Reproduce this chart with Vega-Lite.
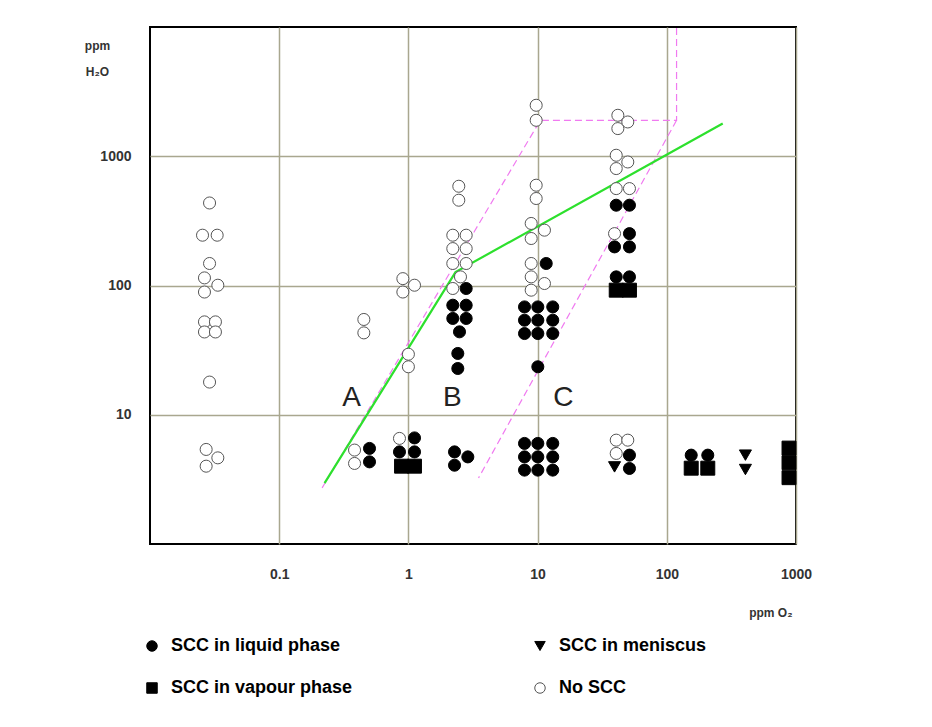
{
  "$schema": "https://vega.github.io/schema/vega-lite/v6.json",
  "width": 646,
  "height": 517,
  "autosize": {"type": "none"},
  "padding": {"left": 150, "top": 27, "right": 136, "bottom": 183},
  "background": "white",
  "config": {
    "view": {"stroke": "#000", "strokeWidth": 2},
    "axis": {
      "gridColor": "#a9a78f", "gridWidth": 1.5, "gridOpacity": 1,
      "domain": false, "ticks": false,
      "labelFont": "Liberation Sans", "labelFontWeight": "bold", "labelFontSize": 14, "labelColor": "#333",
      "titleFont": "Liberation Sans", "titleFontWeight": "bold", "titleFontSize": 12, "titleColor": "#333"
    },
    "legend": {
      "labelFont": "Liberation Sans", "labelFontSize": 18, "labelFontWeight": "bold", "labelColor": "#000",
      "symbolSize": 110, "labelOffset": 10, "symbolStrokeWidth": 1, "labelLimit": 400
    }
  },
  "encoding": {
    "x": {
      "field": "o2", "type": "quantitative",
      "scale": {"type": "log", "domain": [0.01, 1000]},
      "axis": {
        "values": [0.1, 1, 10, 100, 1000], "format": "~g", "labelPadding": 23, "labelFlush": false,
        "title": "ppm O₂", "titleX": 642, "titleY": 68, "titleAlign": "right", "titleBaseline": "middle"
      }
    },
    "y": {
      "field": "h2o", "type": "quantitative",
      "scale": {"type": "log", "domain": [1, 10000]},
      "axis": {
        "values": [10, 100, 1000], "format": "~g", "labelPadding": 19,
        "title": ["ppm", "H₂O"], "titleAngle": 0, "titleX": -53, "titleY": 18,
        "titleAlign": "center", "titleBaseline": "middle", "titleLineHeight": 26
      }
    },
    "shape": {
      "field": "type", "type": "nominal",
      "scale": {"domain": ["SCC in liquid phase", "SCC in vapour phase", "SCC in meniscus", "No SCC"], "range": ["circle", "square", "triangle-down", "circle"]},
      "legend": {"title": null, "orient": "none", "legendX": -7, "legendY": 610, "columns": 2, "columnPadding": 178, "rowPadding": 24}
    },
    "fill": {
      "field": "type", "type": "nominal",
      "scale": {"domain": ["SCC in liquid phase", "SCC in vapour phase", "SCC in meniscus", "No SCC"], "range": ["#000", "#000", "#000", "#fff"]},
      "legend": {"title": null, "orient": "none", "legendX": -7, "legendY": 610, "columns": 2, "columnPadding": 178, "rowPadding": 24}
    },
    "stroke": {
      "field": "type", "type": "nominal",
      "scale": {"domain": ["SCC in liquid phase", "SCC in vapour phase", "SCC in meniscus", "No SCC"], "range": ["#000", "#000", "#000", "#555"]},
      "legend": {"title": null, "orient": "none", "legendX": -7, "legendY": 610, "columns": 2, "columnPadding": 178, "rowPadding": 24}
    }
  },
  "layer": [
    {
      "data": {"values": [
        {"seg": "B", "ord": 1, "o2": 0.215, "h2o": 2.72},
        {"seg": "B", "ord": 2, "o2": 10.5, "h2o": 1897},
        {"seg": "B", "ord": 3, "o2": 119, "h2o": 1897},
        {"seg": "B", "ord": 4, "o2": 119, "h2o": 10000},
        {"seg": "C", "ord": 1, "o2": 119, "h2o": 1897},
        {"seg": "C", "ord": 2, "o2": 3.49, "h2o": 3.24}
      ]},
      "mark": {"type": "line", "stroke": "#f07af0", "strokeWidth": 1.2, "strokeDash": [7, 4], "clip": true},
      "encoding": {
        "shape": null, "fill": null, "stroke": null,
        "detail": {"field": "seg"},
        "order": {"field": "ord", "type": "quantitative"}
      }
    },
    {
      "data": {"values": [
        {"o2": 0.2245, "h2o": 2.96},
        {"o2": 2.316, "h2o": 127},
        {"o2": 271, "h2o": 1790}
      ]},
      "mark": {"type": "line", "stroke": "#2de02d", "strokeWidth": 2.2},
      "encoding": {"shape": null, "fill": null, "stroke": null}
    },
    {
      "data": {"values": [
        {"o2": 0.0289, "h2o": 435, "type": "No SCC"},
        {"o2": 0.0255, "h2o": 245, "type": "No SCC"},
        {"o2": 0.0331, "h2o": 245, "type": "No SCC"},
        {"o2": 0.0289, "h2o": 148, "type": "No SCC"},
        {"o2": 0.0264, "h2o": 114.5, "type": "No SCC"},
        {"o2": 0.0335, "h2o": 100.5, "type": "No SCC"},
        {"o2": 0.0264, "h2o": 89, "type": "No SCC"},
        {"o2": 0.0264, "h2o": 52.3, "type": "No SCC"},
        {"o2": 0.0321, "h2o": 52.3, "type": "No SCC"},
        {"o2": 0.0264, "h2o": 43.7, "type": "No SCC"},
        {"o2": 0.0321, "h2o": 43.7, "type": "No SCC"},
        {"o2": 0.0289, "h2o": 17.9, "type": "No SCC"},
        {"o2": 0.0272, "h2o": 5.39, "type": "No SCC"},
        {"o2": 0.0335, "h2o": 4.64, "type": "No SCC"},
        {"o2": 0.0272, "h2o": 4.0, "type": "No SCC"},
        {"o2": 0.452, "h2o": 54.6, "type": "No SCC"},
        {"o2": 0.452, "h2o": 43, "type": "No SCC"},
        {"o2": 0.383, "h2o": 5.33, "type": "No SCC"},
        {"o2": 0.383, "h2o": 4.2, "type": "No SCC"},
        {"o2": 0.906, "h2o": 113, "type": "No SCC"},
        {"o2": 1.115, "h2o": 100.5, "type": "No SCC"},
        {"o2": 0.906, "h2o": 89, "type": "No SCC"},
        {"o2": 1.0, "h2o": 29.4, "type": "No SCC"},
        {"o2": 1.0, "h2o": 23.5, "type": "No SCC"},
        {"o2": 0.853, "h2o": 6.56, "type": "No SCC"},
        {"o2": 2.455, "h2o": 586, "type": "No SCC"},
        {"o2": 2.455, "h2o": 457, "type": "No SCC"},
        {"o2": 2.206, "h2o": 245, "type": "No SCC"},
        {"o2": 2.8, "h2o": 245, "type": "No SCC"},
        {"o2": 2.206, "h2o": 193, "type": "No SCC"},
        {"o2": 2.8, "h2o": 193, "type": "No SCC"},
        {"o2": 2.206, "h2o": 148, "type": "No SCC"},
        {"o2": 2.8, "h2o": 148, "type": "No SCC"},
        {"o2": 2.53, "h2o": 116.6, "type": "No SCC"},
        {"o2": 2.206, "h2o": 94.8, "type": "No SCC"},
        {"o2": 9.75, "h2o": 2480, "type": "No SCC"},
        {"o2": 9.75, "h2o": 1897, "type": "No SCC"},
        {"o2": 9.75, "h2o": 597, "type": "No SCC"},
        {"o2": 9.75, "h2o": 471, "type": "No SCC"},
        {"o2": 8.92, "h2o": 302, "type": "No SCC"},
        {"o2": 11.3, "h2o": 268, "type": "No SCC"},
        {"o2": 8.92, "h2o": 231, "type": "No SCC"},
        {"o2": 8.92, "h2o": 148, "type": "No SCC"},
        {"o2": 8.92, "h2o": 116.6, "type": "No SCC"},
        {"o2": 11.3, "h2o": 103.6, "type": "No SCC"},
        {"o2": 8.92, "h2o": 92, "type": "No SCC"},
        {"o2": 41.8, "h2o": 2075, "type": "No SCC"},
        {"o2": 49.9, "h2o": 1842, "type": "No SCC"},
        {"o2": 41.8, "h2o": 1637, "type": "No SCC"},
        {"o2": 40.6, "h2o": 1018, "type": "No SCC"},
        {"o2": 49.9, "h2o": 903, "type": "No SCC"},
        {"o2": 40.6, "h2o": 803, "type": "No SCC"},
        {"o2": 40.6, "h2o": 562, "type": "No SCC"},
        {"o2": 51.4, "h2o": 562, "type": "No SCC"},
        {"o2": 39.4, "h2o": 252, "type": "No SCC"},
        {"o2": 40.6, "h2o": 6.36, "type": "No SCC"},
        {"o2": 49.9, "h2o": 6.36, "type": "No SCC"},
        {"o2": 40.6, "h2o": 5.02, "type": "No SCC"},
        {"o2": 0.5, "h2o": 5.49, "type": "SCC in liquid phase"},
        {"o2": 0.5, "h2o": 4.32, "type": "SCC in liquid phase"},
        {"o2": 1.115, "h2o": 6.62, "type": "SCC in liquid phase"},
        {"o2": 0.853, "h2o": 5.16, "type": "SCC in liquid phase"},
        {"o2": 1.115, "h2o": 5.16, "type": "SCC in liquid phase"},
        {"o2": 2.8, "h2o": 94.8, "type": "SCC in liquid phase"},
        {"o2": 2.206, "h2o": 70.4, "type": "SCC in liquid phase"},
        {"o2": 2.8, "h2o": 70.4, "type": "SCC in liquid phase"},
        {"o2": 2.206, "h2o": 55.6, "type": "SCC in liquid phase"},
        {"o2": 2.8, "h2o": 55.6, "type": "SCC in liquid phase"},
        {"o2": 2.486, "h2o": 43.8, "type": "SCC in liquid phase"},
        {"o2": 2.412, "h2o": 29.8, "type": "SCC in liquid phase"},
        {"o2": 2.412, "h2o": 22.8, "type": "SCC in liquid phase"},
        {"o2": 2.275, "h2o": 5.16, "type": "SCC in liquid phase"},
        {"o2": 2.275, "h2o": 4.07, "type": "SCC in liquid phase"},
        {"o2": 2.884, "h2o": 4.72, "type": "SCC in liquid phase"},
        {"o2": 11.66, "h2o": 148, "type": "SCC in liquid phase"},
        {"o2": 7.92, "h2o": 68.3, "type": "SCC in liquid phase"},
        {"o2": 10.04, "h2o": 68.3, "type": "SCC in liquid phase"},
        {"o2": 13.1, "h2o": 68.3, "type": "SCC in liquid phase"},
        {"o2": 7.92, "h2o": 53.9, "type": "SCC in liquid phase"},
        {"o2": 10.04, "h2o": 53.9, "type": "SCC in liquid phase"},
        {"o2": 13.1, "h2o": 53.9, "type": "SCC in liquid phase"},
        {"o2": 7.92, "h2o": 42.5, "type": "SCC in liquid phase"},
        {"o2": 10.04, "h2o": 42.5, "type": "SCC in liquid phase"},
        {"o2": 13.1, "h2o": 42.5, "type": "SCC in liquid phase"},
        {"o2": 10.04, "h2o": 23.5, "type": "SCC in liquid phase"},
        {"o2": 7.92, "h2o": 6.0, "type": "SCC in liquid phase"},
        {"o2": 10.04, "h2o": 6.0, "type": "SCC in liquid phase"},
        {"o2": 13.1, "h2o": 6.0, "type": "SCC in liquid phase"},
        {"o2": 7.92, "h2o": 4.72, "type": "SCC in liquid phase"},
        {"o2": 10.04, "h2o": 4.72, "type": "SCC in liquid phase"},
        {"o2": 13.1, "h2o": 4.72, "type": "SCC in liquid phase"},
        {"o2": 7.92, "h2o": 3.73, "type": "SCC in liquid phase"},
        {"o2": 10.04, "h2o": 3.73, "type": "SCC in liquid phase"},
        {"o2": 13.1, "h2o": 3.73, "type": "SCC in liquid phase"},
        {"o2": 40.6, "h2o": 418, "type": "SCC in liquid phase"},
        {"o2": 51.4, "h2o": 418, "type": "SCC in liquid phase"},
        {"o2": 51.4, "h2o": 252, "type": "SCC in liquid phase"},
        {"o2": 39.4, "h2o": 199, "type": "SCC in liquid phase"},
        {"o2": 51.4, "h2o": 199, "type": "SCC in liquid phase"},
        {"o2": 40.6, "h2o": 116.6, "type": "SCC in liquid phase"},
        {"o2": 51.4, "h2o": 116.6, "type": "SCC in liquid phase"},
        {"o2": 51.4, "h2o": 4.87, "type": "SCC in liquid phase"},
        {"o2": 51.4, "h2o": 3.84, "type": "SCC in liquid phase"},
        {"o2": 154.5, "h2o": 4.87, "type": "SCC in liquid phase"},
        {"o2": 207.6, "h2o": 4.87, "type": "SCC in liquid phase"},
        {"o2": 39.4, "h2o": 3.95, "type": "SCC in meniscus"},
        {"o2": 406, "h2o": 4.87, "type": "SCC in meniscus"},
        {"o2": 406, "h2o": 3.77, "type": "SCC in meniscus"}
      ]},
      "mark": {"type": "point", "filled": true, "opacity": 1, "strokeWidth": 1, "size": 145}
    },
    {
      "data": {"values": [
        {"o2": 0.885, "h2o": 4.0, "type": "SCC in vapour phase"},
        {"o2": 1.114, "h2o": 4.0, "type": "SCC in vapour phase"},
        {"o2": 40.6, "h2o": 92, "type": "SCC in vapour phase"},
        {"o2": 51.4, "h2o": 92, "type": "SCC in vapour phase"},
        {"o2": 154.5, "h2o": 3.86, "type": "SCC in vapour phase"},
        {"o2": 207.6, "h2o": 3.86, "type": "SCC in vapour phase"},
        {"o2": 883, "h2o": 5.52, "type": "SCC in vapour phase"},
        {"o2": 883, "h2o": 4.26, "type": "SCC in vapour phase"},
        {"o2": 883, "h2o": 3.26, "type": "SCC in vapour phase"}
      ]},
      "mark": {"type": "point", "filled": true, "opacity": 1, "strokeWidth": 1, "size": 195}
    },
    {
      "data": {"values": [
        {"o2": 0.363, "h2o": 13.4, "label": "A"},
        {"o2": 2.19, "h2o": 13.4, "label": "B"},
        {"o2": 15.85, "h2o": 13.4, "label": "C"}
      ]},
      "mark": {"type": "text", "font": "Liberation Sans", "fontSize": 28, "baseline": "middle", "align": "center", "color": "#222"},
      "encoding": {"text": {"field": "label"}, "shape": null, "fill": null, "stroke": null}
    }
  ]
}
